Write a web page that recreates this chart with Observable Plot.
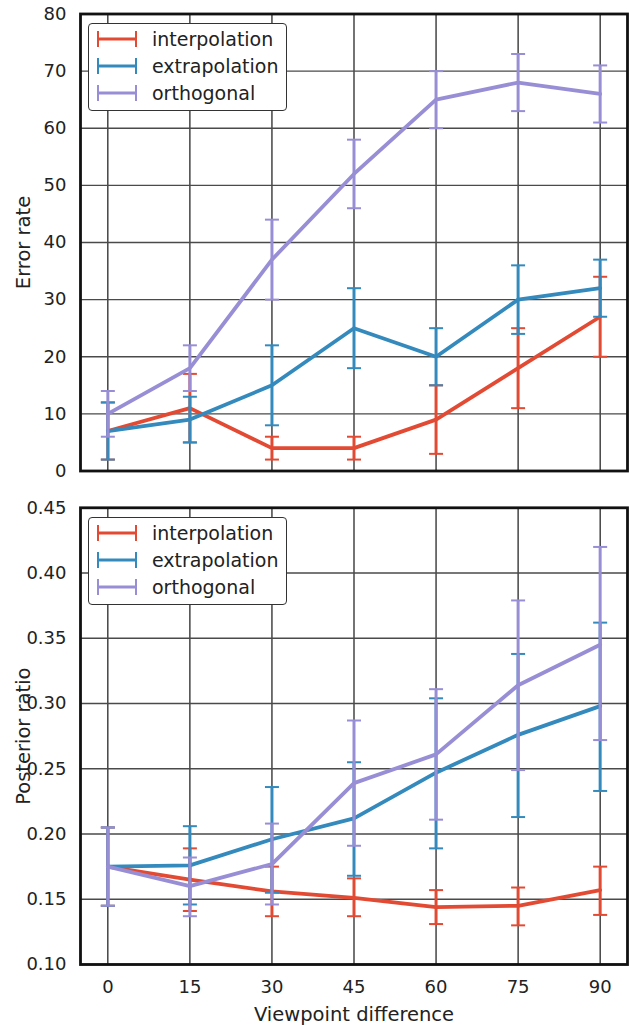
<!DOCTYPE html>
<html><head><meta charset="utf-8">
<script src="https://cdn.jsdelivr.net/npm/d3@7"></script>
<script src="https://cdn.jsdelivr.net/npm/@observablehq/plot@0.6"></script>
<style>
body{margin:0;background:#fff;font-family:"DejaVu Sans",sans-serif;}
#wrap{position:relative;width:630px;height:1025px;}
#wrap svg{display:block;}
.legend{position:absolute;left:88px;width:199px;height:88px;border:1px solid #333;border-radius:4px;background:#fff;box-sizing:border-box;}
.row{position:absolute;left:0;width:100%;height:26px;}
.row svg{position:absolute;left:7px;top:3px;}
.row span{position:absolute;left:63px;top:0;line-height:26px;font-size:19px;color:#222;}
</style></head>
<body><div id="wrap"></div>
<script>
const angles = [0, 15, 30, 45, 60, 75, 90];
const seriesNames = ["interpolation", "extrapolation", "orthogonal"];
const seriesColors = ["#E24A33", "#348ABD", "#988ED5"];

// Error rate panel
const errInterp   = [7, 11, 4, 4, 9, 18, 27];
const errInterpLo = [2, 5, 2, 2, 3, 11, 20];
const errInterpHi = [12, 17, 6, 6, 15, 25, 34];
const errExtrap   = [7, 9, 15, 25, 20, 30, 32];
const errExtrapLo = [2, 5, 8, 18, 15, 24, 27];
const errExtrapHi = [12, 13, 22, 32, 25, 36, 37];
const errOrth     = [10, 18, 37, 52, 65, 68, 66];
const errOrthLo   = [6, 14, 30, 46, 60, 63, 61];
const errOrthHi   = [14, 22, 44, 58, 70, 73, 71];
const errTicks = [0, 10, 20, 30, 40, 50, 60, 70, 80];

// Posterior ratio panel
const postInterp   = [0.175, 0.165, 0.156, 0.151, 0.144, 0.145, 0.157];
const postInterpLo = [0.145, 0.141, 0.137, 0.137, 0.131, 0.130, 0.138];
const postInterpHi = [0.205, 0.189, 0.175, 0.166, 0.157, 0.159, 0.175];
const postExtrap   = [0.175, 0.176, 0.196, 0.212, 0.247, 0.276, 0.298];
const postExtrapLo = [0.145, 0.146, 0.155, 0.168, 0.189, 0.213, 0.233];
const postExtrapHi = [0.205, 0.206, 0.236, 0.255, 0.304, 0.338, 0.362];
const postOrth     = [0.175, 0.160, 0.177, 0.239, 0.261, 0.314, 0.345];
const postOrthLo   = [0.145, 0.137, 0.146, 0.191, 0.211, 0.249, 0.272];
const postOrthHi   = [0.205, 0.182, 0.208, 0.287, 0.311, 0.379, 0.420];
const postTicks = [0.10, 0.15, 0.20, 0.25, 0.30, 0.35, 0.40, 0.45];

const capSymbol = {draw(ctx, size) { const w = Math.sqrt(size / Math.PI); ctx.moveTo(-w, 0); ctx.lineTo(w, 0); }};

function rowsOf(vals, lo, hi) {
  return angles.map((a, i) => ({x: a, y: vals[i], lo: lo[i], hi: hi[i]}));
}

function panel(sets, ticks, yLabel, opts) {
  const marks = [
    Plot.gridX(angles, {stroke: "#000", strokeOpacity: 1, strokeWidth: 1.1}),
    Plot.gridY(ticks, {stroke: "#4a4a4a", strokeOpacity: 1, strokeWidth: 1.4}),
  ];
  sets.forEach((rows, k) => {
    const c = seriesColors[k];
    marks.push(
      Plot.ruleX(rows, {x: "x", y1: "lo", y2: "hi", stroke: c, strokeWidth: 3}),
      Plot.dot(rows, {x: "x", y: "lo", symbol: capSymbol, r: 7, fill: "none", stroke: c, strokeWidth: 2}),
      Plot.dot(rows, {x: "x", y: "hi", symbol: capSymbol, r: 7, fill: "none", stroke: c, strokeWidth: 2}),
      Plot.line(rows, {x: "x", y: "y", stroke: c, strokeWidth: 3.8})
    );
  });
  marks.push(Plot.frame({stroke: "#111", strokeWidth: 2.8}));
  marks.push(Plot.axisY(ticks, {tickSize: 0, tickPadding: 14, fontSize: 18, tickFormat: opts.fmt, label: null}));
  marks.push(Plot.axisY({label: yLabel, ticks: [], tickSize: 0, fontSize: 19.5, labelAnchor: "center", labelOffset: 64, labelArrow: false}));
  if (opts.xAxis) {
    marks.push(Plot.axisX(angles, {tickSize: 0, tickPadding: 16, fontSize: 18, label: null}));
    marks.push(Plot.axisX({ticks: [], tickSize: 0, fontSize: 19.5, label: "Viewpoint difference", labelAnchor: "center", labelOffset: 56, labelArrow: false}));
  }
  return Plot.plot({
    width: 630, height: opts.height,
    marginLeft: 80, marginRight: 3, marginTop: opts.mt, marginBottom: opts.mb,
    style: {fontFamily: "DejaVu Sans", fontSize: "18px", color: "#222", background: "#fff", overflow: "visible"},
    x: {domain: [-5, 95], axis: opts.xAxis ? undefined : null},
    y: {domain: opts.domain},
    marks
  });
}

const wrap = document.getElementById("wrap");
wrap.append(panel([
  rowsOf(errInterp, errInterpLo, errInterpHi),
  rowsOf(errExtrap, errExtrapLo, errExtrapHi),
  rowsOf(errOrth, errOrthLo, errOrthHi)
], errTicks, "Error rate", {height: 490, mt: 13.5, mb: 19.5, domain: [0, 80], fmt: d => d.toFixed(0), xAxis: false}));

wrap.append(panel([
  rowsOf(postInterp, postInterpLo, postInterpHi),
  rowsOf(postExtrap, postExtrapLo, postExtrapHi),
  rowsOf(postOrth, postOrthLo, postOrthHi)
], postTicks, "Posterior ratio", {height: 535, mt: 17.3, mb: 61, domain: [0.10, 0.45], fmt: d => d.toFixed(2), xAxis: true}));

function legend(top) {
  const box = document.createElement("div");
  box.className = "legend";
  box.style.top = top + "px";
  seriesNames.forEach((name, k) => {
    const row = document.createElement("div");
    row.className = "row";
    row.style.top = (2 + k * 27) + "px";
    const c = seriesColors[k];
    row.innerHTML = `<svg width="42" height="20"><line x1="2" y1="10" x2="40" y2="10" stroke="${c}" stroke-width="3"/><line x1="2" y1="2" x2="2" y2="18" stroke="${c}" stroke-width="2"/><line x1="40" y1="2" x2="40" y2="18" stroke="${c}" stroke-width="2"/></svg><span>${name}</span>`;
    box.append(row);
  });
  wrap.append(box);
}
legend(23);
legend(517);
</script></body></html>
